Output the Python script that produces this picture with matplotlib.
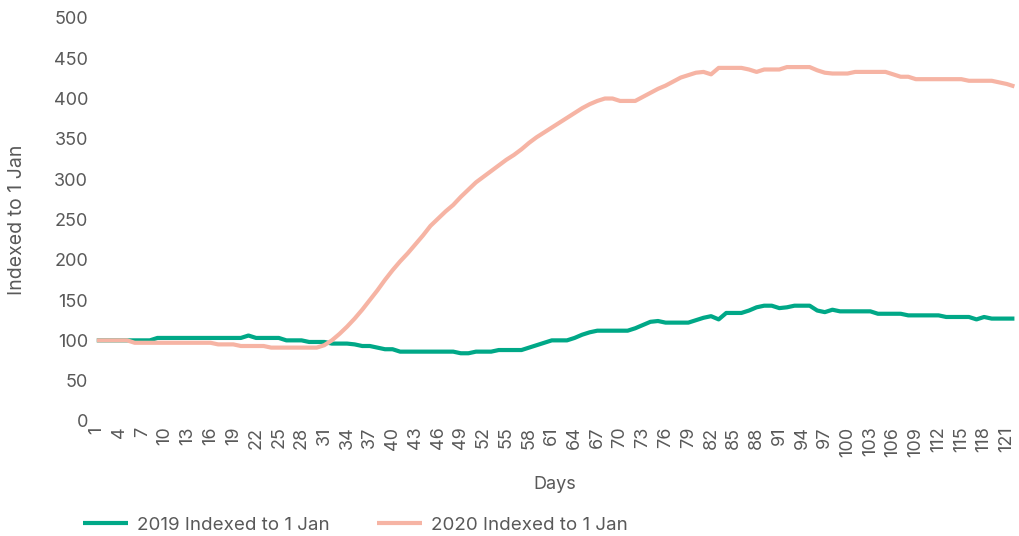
import matplotlib.pyplot as plt

plt.rcParams['font.family'] = ['Inter', 'DejaVu Sans']

days = list(range(1, 123))

idx_2019 = [100] * 8 + [103] * 12 + [106] + [103] * 4 + [100] * 3 + [98] * 3 + [96] * 3 + \
    [95, 93, 93, 91, 89, 89] + [86] * 8 + [84, 84, 86, 86, 86, 88, 88, 88, 88] + \
    [91, 94, 97, 100, 100, 100, 103, 107, 110] + [112] * 5 + \
    [115, 119, 123, 124, 122, 122, 122, 122, 125, 128, 130, 126, 134, 134, 134, 137,
     141, 143, 143, 140, 141, 143, 143, 143, 137, 135, 138] + [136] * 5 + [133] * 4 + \
    [131] * 5 + [129] * 4 + [126, 129, 127, 127, 127, 127]

idx_2020 = [100] * 5 + [97] * 11 + [95] * 3 + [93] * 4 + [91] * 7 + \
    [94, 100, 108, 117, 127, 138, 150, 162, 175, 187, 198, 208, 219, 230, 242, 251,
     260, 268, 278, 287, 296, 303, 310, 317, 324, 330, 337, 345, 352, 358, 364, 370,
     376, 382, 388, 393, 397, 400, 400, 397, 397, 397, 402, 407, 412, 416, 421, 426,
     429, 432, 433, 430, 438, 438, 438, 438, 436, 433, 436, 436, 436, 439, 439, 439,
     439, 435, 432, 431, 431, 431] + [433] * 5 + [430, 427, 427] + [424] * 7 + \
    [422] * 4 + [420, 418, 415]

green = '#00A887'
salmon = '#F6B4A4'
grey = '#595959'

fig = plt.figure(figsize=(10.19, 5.36), dpi=100)
ax = fig.add_axes([0.092, 0.2146, 0.905, 0.752])

ax.plot(days, idx_2019, color=green, lw=3, label='2019 Indexed to 1 Jan', solid_capstyle='butt')
ax.plot(days, idx_2020, color=salmon, lw=3, label='2020 Indexed to 1 Jan', solid_capstyle='butt')

ax.set_xlim(0.6, 122.2)
ax.set_ylim(0, 500)
ax.set_yticks(range(0, 501, 50))
ax.set_xticks(days[::3])
ax.set_xticklabels([str(d) for d in days[::3]], rotation=90)
ax.tick_params(length=0, labelsize=13, colors=grey, pad=4)

for s in ax.spines.values():
    s.set_visible(False)

ax.set_xlabel('Days', fontsize=13, color=grey, labelpad=14)
ax.set_ylabel('Indexed to 1 Jan', fontsize=14, color=grey, labelpad=20)

ax.legend(loc='upper left', bbox_to_anchor=(-0.03, -0.195), ncol=2, frameon=False,
          fontsize=13.5, labelcolor=grey, handlelength=2.4, columnspacing=2.5,
          handletextpad=0.5)

fig.savefig('out.png')
